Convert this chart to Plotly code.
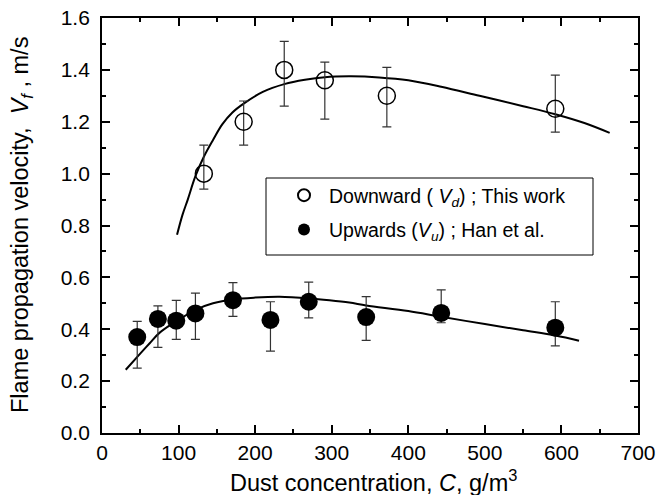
import plotly.graph_objects as go

# Downward flame propagation (this work)
down_x = [133, 185, 238, 291, 372, 592]
down_y = [1.00, 1.20, 1.40, 1.36, 1.30, 1.25]
down_err_plus = [0.11, 0.08, 0.11, 0.07, 0.11, 0.13]
down_err_minus = [0.06, 0.09, 0.14, 0.15, 0.12, 0.09]

# Upward flame propagation (Han et al.)
up_x = [46, 73, 97, 122, 171, 220, 270, 345, 443, 592]
up_y = [0.37, 0.44, 0.433, 0.461, 0.512, 0.436, 0.506, 0.447, 0.463, 0.406]
up_err_plus = [0.06, 0.05, 0.078, 0.078, 0.068, 0.07, 0.076, 0.079, 0.089, 0.10]
up_err_minus = [0.12, 0.11, 0.072, 0.10, 0.062, 0.12, 0.062, 0.09, 0.038, 0.07]

# Fitted curves
fit_down_x = [98, 105, 112, 122, 133, 145, 157, 170, 185, 210, 238, 265, 291, 325, 362, 400, 443, 493, 550, 592, 630, 663]
fit_down_y = [0.764, 0.84, 0.90, 0.99, 1.065, 1.13, 1.19, 1.235, 1.27, 1.315, 1.345, 1.362, 1.372, 1.375, 1.371, 1.36, 1.335, 1.30, 1.26, 1.229, 1.195, 1.157]

fit_up_x = [31, 49, 62, 75, 97, 123, 145, 171, 200, 232, 271, 297, 323, 345, 400, 443, 500, 550, 592, 623]
fit_up_y = [0.244, 0.303, 0.345, 0.386, 0.431, 0.476, 0.50, 0.515, 0.522, 0.525, 0.519, 0.512, 0.503, 0.492, 0.47, 0.448, 0.42, 0.396, 0.376, 0.356]

x_title = "Dust concentration, <i>C</i>, g/m<sup>3</sup>"
y_title = "Flame propagation velocity,  <i>V<sub>f</sub></i> , m/s"

FONT = "Liberation Sans, Arial, Helvetica, sans-serif"

fig = go.Figure()

fig.add_trace(go.Scatter(x=fit_down_x, y=fit_down_y, mode="lines",
                         line=dict(color="black", width=2, shape="spline"),
                         showlegend=False, hoverinfo="skip"))
fig.add_trace(go.Scatter(x=fit_up_x, y=fit_up_y, mode="lines",
                         line=dict(color="black", width=2, shape="spline"),
                         showlegend=False, hoverinfo="skip"))

fig.add_trace(go.Scatter(
    x=down_x, y=down_y, mode="markers",
    name="Downward ( <i>V<sub>d</sub></i>) ; This work",
    legendgroup="a",
    marker=dict(symbol="circle-open", size=17, color="black", line=dict(width=1.5, color="black")),
    error_y=dict(type="data", symmetric=False, array=down_err_plus, arrayminus=down_err_minus,
                 color="#333", thickness=1.2, width=4.5),
))
fig.add_trace(go.Scatter(
    x=up_x, y=up_y, mode="markers",
    name="Upwards (<i>V<sub>u</sub></i>) ; Han et al.",
    legendgroup="b",
    marker=dict(symbol="circle", size=18, color="black"),
    error_y=dict(type="data", symmetric=False, array=up_err_plus, arrayminus=up_err_minus,
                 color="#333", thickness=1.2, width=4.5),
))

L, R, T, B = 102, 34, 18, 62
W, H = 672, 495
pw, ph = W - L - R, H - T - B

def px2paper_x(p):
    return (p - L) / pw

def px2paper_y(p):
    return (H - B - p) / ph

# legend frame
fig.add_shape(type="rect", xref="paper", yref="paper",
              x0=px2paper_x(266), x1=px2paper_x(593),
              y0=px2paper_y(255), y1=px2paper_y(178),
              line=dict(color="black", width=1), fillcolor="rgba(0,0,0,0)")

# axis titles
fig.add_annotation(text=x_title, xref="paper", yref="paper",
                   x=px2paper_x(373), y=px2paper_y(481), xanchor="center", yanchor="middle",
                   showarrow=False, font=dict(family=FONT, size=23.5, color="black"))
fig.add_annotation(text=y_title, xref="paper", yref="paper", textangle=-90,
                   x=px2paper_x(22), y=px2paper_y(225), xanchor="center", yanchor="middle",
                   showarrow=False, font=dict(family=FONT, size=23.5, color="black"))

axis_common = dict(
    showline=True, linecolor="black", linewidth=1.8, mirror="ticks",
    ticks="inside", ticklen=8, tickwidth=1.5, tickcolor="black",
    showgrid=False, zeroline=False, automargin=False,
    tickfont=dict(family=FONT, size=21, color="black"),
)

fig.update_xaxes(range=[0, 700], dtick=100, tick0=0,
                 minor=dict(ticks="inside", ticklen=4, dtick=50, tickwidth=1.5, tickcolor="black", showgrid=False),
                 ticklabelstandoff=0,
                 **axis_common)
fig.update_yaxes(range=[0, 1.6], dtick=0.2, tick0=0, tickformat=".1f",
                 minor=dict(ticks="inside", ticklen=4, dtick=0.1, tickwidth=1.5, tickcolor="black", showgrid=False),
                 ticklabelstandoff=6,
                 **axis_common)

fig.update_layout(
    width=W, height=H,
    margin=dict(l=L, r=R, t=T, b=B, autoexpand=False),
    paper_bgcolor="white", plot_bgcolor="white",
    font=dict(family=FONT, color="black"),
    legend=dict(x=px2paper_x(279), y=px2paper_y(176), xanchor="left", yanchor="top",
                bgcolor="rgba(0,0,0,0)", borderwidth=0,
                font=dict(family=FONT, size=19.5, color="black"),
                tracegroupgap=6, itemsizing="constant", itemwidth=40),
)

fig.write_html("out.html", config={"displayModeBar": False},
               post_script="document.body.style.margin='0';document.body.style.overflow='hidden';")
